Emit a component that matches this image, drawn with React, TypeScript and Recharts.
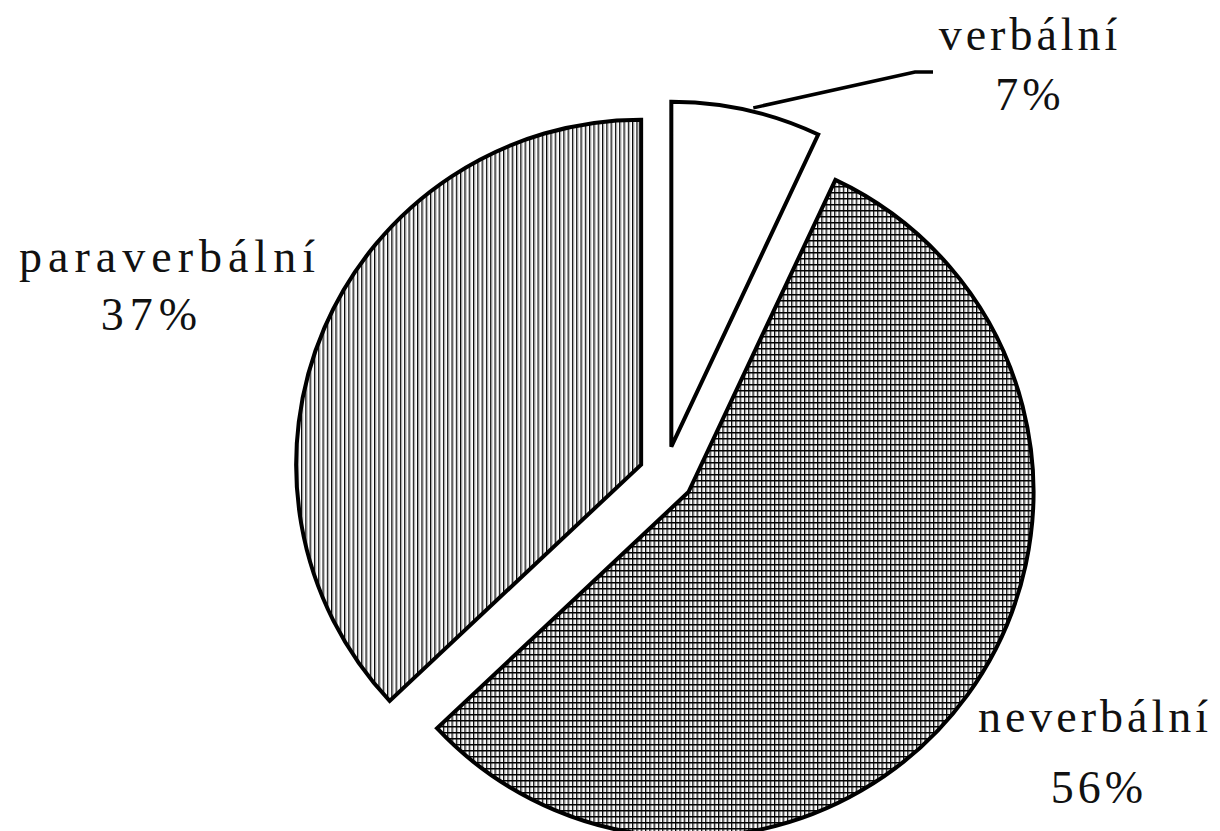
import { PieChart, Pie, Cell } from 'recharts'

const categories = ['verbální', 'neverbální', 'paraverbální']
const shares = [7, 56, 37]
const percentLabels = ['7%', '56%', '37%']

const W = 1220
const H = 831
const CX = 660
const CY = 470
const R = 345
const EXPLODE = [29, 29, 26]
const FILLS = ['#ffffff', 'url(#gridFill)', 'url(#lineFill)']
const FONT = '"Liberation Serif", "Times New Roman", serif'

// label placement relative to the (unexploded) pie centre
const LABEL_POS = [
  { dx1: 370, dx2: 370, y1: -420, y2: -360, ls: 4 },
  { dx1: 435, dx2: 439, y1: 262, y2: 333, ls: 4 },
  { dx1: -490, dx2: -508, y1: -198, y2: -140, ls: 6 },
]
// leader line for the small slice: elbow point and horizontal tail
const LEADER = { angleShift: -2, ex: 255, ey: -398, tail: 18 }

const data = categories.map((name, i) => ({ name, value: shares[i] }))
const total = shares.reduce((a, b) => a + b, 0)
const midAngles = shares.map((v, i) => {
  const before = shares.slice(0, i).reduce((a, b) => a + b, 0)
  return 90 - (360 * (before + v / 2)) / total
})

const toRad = (deg: number) => (deg * Math.PI) / 180

function centreOf(k: number) {
  const a = toRad(midAngles[k])
  return { x: CX + EXPLODE[k] * Math.cos(a), y: CY - EXPLODE[k] * Math.sin(a) }
}

function renderLabel(k: number) {
  const pos = LABEL_POS[k]
  const textStyle = { fontFamily: FONT, fontSize: 46, letterSpacing: pos.ls }
  let leader = null
  if (k === 0) {
    const c = centreOf(0)
    const a = toRad(midAngles[0] + LEADER.angleShift)
    const sx = c.x + R * Math.cos(a)
    const sy = c.y - R * Math.sin(a)
    const ex = CX + LEADER.ex
    const ey = CY + LEADER.ey
    leader = (
      <path
        d={`M${sx},${sy} L${ex},${ey} L${ex + LEADER.tail},${ey}`}
        stroke="#000"
        strokeWidth={3.5}
        fill="none"
      />
    )
  }
  return (
    <g key={`lbl-${k}`}>
      {leader}
      <text x={CX + pos.dx1} y={CY + pos.y1} textAnchor="middle" fill="#111" fontFamily={FONT} style={textStyle}>
        {categories[k]}
      </text>
      <text x={CX + pos.dx2} y={CY + pos.y2} textAnchor="middle" fill="#111" fontFamily={FONT} style={textStyle}>
        {percentLabels[k]}
      </text>
    </g>
  )
}

export default function App() {
  return (
    <div style={{ position: 'absolute', left: 0, top: 0, width: W, height: H, background: '#fff' }}>
      <svg width={0} height={0} style={{ position: 'absolute' }}>
        <defs>
          <pattern id="lineFill" patternUnits="userSpaceOnUse" width={4.3} height={10}>
            <rect x={0} y={0} width={1.1} height={10} fill="#000" />
            <rect x={1.1} y={0} width={1} height={10} fill="#888" />
          </pattern>
          <pattern id="gridFill" patternUnits="userSpaceOnUse" width={4.3} height={6}>
            <rect x={0} y={0} width={1.1} height={6} fill="#000" />
            <rect x={1.1} y={0} width={1} height={6} fill="#888" />
            <rect x={0} y={0} width={4.3} height={1.5} fill="#000" />
          </pattern>
        </defs>
      </svg>
      <PieChart width={W} height={H}>
        {categories.map((_, k) => {
          const c = centreOf(k)
          return (
            <Pie
              key={k}
              data={data}
              dataKey="value"
              nameKey="name"
              cx={c.x}
              cy={c.y}
              innerRadius={0}
              outerRadius={R}
              startAngle={90}
              endAngle={-270}
              isAnimationActive={false}
              labelLine={false}
              strokeWidth={4}
              label={(p: any) => (p.index === k ? renderLabel(k) : null)}
            >
              {data.map((_, i) => (
                <Cell
                  key={i}
                  fill={i === k ? FILLS[i] : 'none'}
                  stroke={i === k ? '#000' : 'none'}
                  strokeWidth={4}
                />
              ))}
            </Pie>
          )
        })}
      </PieChart>
    </div>
  )
}
